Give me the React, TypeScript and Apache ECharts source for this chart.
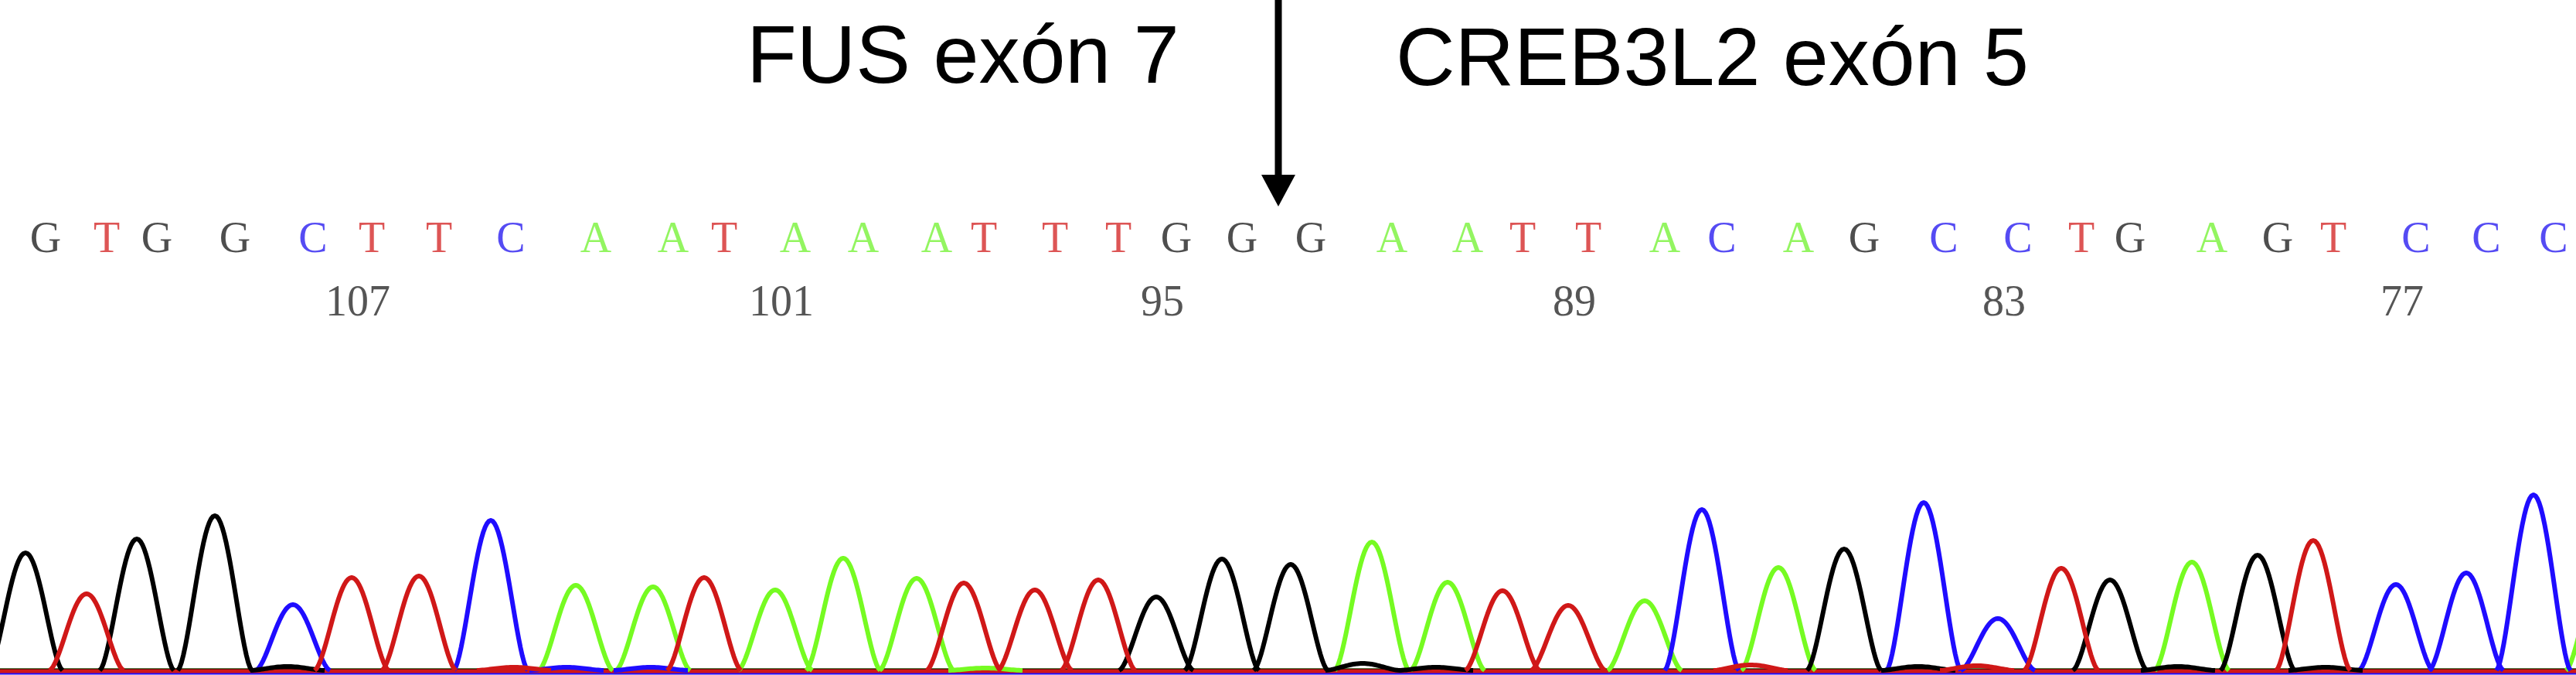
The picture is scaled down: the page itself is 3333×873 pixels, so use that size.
import React, { useEffect, useRef } from "react";
import * as echarts from "echarts";

// ---- data ----
const BASES = [
  "G","T","G","G","C","T","T","C","A","A","T","A","A","A","T","T","T","G","G",
  "G","A","A","T","T","A","C","A","G","C","C","T","G","A","G","T","C","C","C",
];
const PEAK_POS = [
  33, 112, 177, 278, 379, 455, 542, 635, 745, 845, 911, 1003, 1091, 1186, 1247,
  1339, 1421, 1496, 1581, 1670, 1775, 1873, 1944, 2029, 2128, 2202, 2301, 2386,
  2489, 2585, 2667, 2730, 2836, 2921, 2993, 3100, 3191, 3278,
];
const PEAK_HEIGHT = [
  152, 99, 170, 200, 85, 120, 122, 194, 110, 108, 120, 104, 145, 119, 113,
  104, 117, 95, 144, 137, 166, 114, 103, 84, 90, 208, 133, 157,
  217, 67, 132, 117, 140, 149, 168, 111, 126, 227,
];
// small secondary peaks: base, position, height
const MINOR_BASE = ["G", "G", "G", "G", "G", "G", "T", "T", "T", "C", "C", "A", "A"];
const MINOR_POS = [372, 1763, 1858, 2482, 2818, 3009, 665, 2265, 2558, 733, 842, 1275, 3368];
const MINOR_HEIGHT = [5, 9, 4, 5, 5, 4, 4, 7, 6, 4, 4, 3, 130];

// position tick labels: base index (1-based) and label
const TICK_INDEX = [6, 12, 18, 24, 30, 36];
const TICK_LABEL = ["107", "101", "95", "89", "83", "77"];

const TITLE_LEFT = "FUS exón 7";
const TITLE_RIGHT = "CREB3L2 exón 5";

// ---- styles ----
const TRACE_COLOR: Record<string, string> = {
  A: "#76fb22",
  C: "#1f0cff",
  G: "#000000",
  T: "#d01818",
};
const LETTER_COLOR: Record<string, string> = {
  A: "#78f23a",
  C: "#2a1ef0",
  G: "#222222",
  T: "#d42a2a",
};
const BASELINE_SHIFT: Record<string, number> = { A: 0, C: -3, G: 0, T: -1 };
const CHANNEL_ORDER = ["A", "C", "G", "T"];
const HALF_BASE = 48;
const LINE_W = 6;
const X_MIN = 0;
const X_MAX = 3333;

function makeRender(color: string) {
  return (params: any, api: any) => {
    const x = api.value(0);
    const h = api.value(1);
    const N = 20;
    const pts: number[][] = [];
    for (let k = -N; k <= N; k++) {
      const u = k / N;
      const c = Math.max(0, Math.cos((Math.PI * u) / 2));
      pts.push(api.coord([x + u * HALF_BASE, h * Math.pow(c, 1.6)]));
    }
    return {
      type: "polyline",
      shape: { points: pts },
      style: { stroke: color, lineWidth: LINE_W, fill: null, lineJoin: "round" },
    };
  };
}

export default function App() {
  const ref = useRef<HTMLDivElement>(null);
  useEffect(() => {
    if (!ref.current) return;
    const chart = echarts.init(ref.current, null, { renderer: "svg" });

    const series: any[] = [];
    CHANNEL_ORDER.forEach((b) => {
      series.push({
        type: "line",
        xAxisIndex: 0,
        yAxisIndex: 0,
        data: [
          [X_MIN, BASELINE_SHIFT[b]],
          [X_MAX, BASELINE_SHIFT[b]],
        ],
        symbol: "none",
        lineStyle: { color: TRACE_COLOR[b], width: 5 },
        z: 2,
        silent: true,
      });
      const data: number[][] = [];
      PEAK_POS.forEach((p, i) => {
        if (BASES[i] === b) data.push([p, PEAK_HEIGHT[i]]);
      });
      MINOR_POS.forEach((p, i) => {
        if (MINOR_BASE[i] === b) data.push([p, MINOR_HEIGHT[i]]);
      });
      series.push({
        type: "custom",
        xAxisIndex: 0,
        yAxisIndex: 0,
        clip: true,
        renderItem: makeRender(TRACE_COLOR[b]),
        data,
        z: 3,
        silent: true,
      });
    });

    series.push({
      type: "scatter",
      xAxisIndex: 1,
      yAxisIndex: 1,
      symbolSize: 1,
      itemStyle: { color: "transparent" },
      data: BASES.map((b, i) => ({
        value: [PEAK_POS[i], 1],
        name: b,
        label: { color: LETTER_COLOR[b] },
      })),
      label: {
        show: true,
        position: "inside",
        offset: [26, 0],
        formatter: (p: any) => p.name,
        fontFamily: '"Liberation Serif", serif',
        fontSize: 56,
      },
      silent: true,
    });
    series.push({
      type: "scatter",
      xAxisIndex: 1,
      yAxisIndex: 1,
      symbolSize: 1,
      itemStyle: { color: "transparent" },
      data: TICK_INDEX.map((idx, i) => ({
        value: [PEAK_POS[idx - 1], 0],
        name: TICK_LABEL[i],
      })),
      label: {
        show: true,
        position: "inside",
        offset: [8, 0],
        formatter: (p: any) => p.name,
        fontFamily: '"Liberation Serif", serif',
        fontSize: 56,
        color: "#2a2a2a",
      },
      silent: true,
    });

    chart.setOption({
      animation: false,
      backgroundColor: "#ffffff",
      grid: [
        { left: 0, right: 0, top: 597, bottom: 0 },
        { left: 0, right: 0, top: 307, height: 82 },
      ],
      xAxis: [
        { type: "value", gridIndex: 0, min: X_MIN, max: X_MAX, show: false },
        { type: "value", gridIndex: 1, min: X_MIN, max: X_MAX, show: false },
      ],
      yAxis: [
        { type: "value", gridIndex: 0, min: -6, max: 270, show: false },
        { type: "value", gridIndex: 1, min: 0, max: 1, show: false },
      ],
      graphic: [
        {
          type: "text",
          x: 966,
          y: 70,
          style: {
            text: TITLE_LEFT,
            fontFamily: '"Liberation Sans", Arial, sans-serif',
            fontSize: 106,
            fill: "#000",
            align: "left",
            verticalAlign: "middle",
          },
        },
        {
          type: "text",
          x: 1806,
          y: 73,
          style: {
            text: TITLE_RIGHT,
            fontFamily: '"Liberation Sans", Arial, sans-serif',
            fontSize: 106,
            fill: "#000",
            align: "left",
            verticalAlign: "middle",
          },
        },
        {
          type: "line",
          shape: { x1: 1654, y1: 0, x2: 1654, y2: 232 },
          style: { stroke: "#000", lineWidth: 9 },
        },
        {
          type: "polygon",
          shape: {
            points: [
              [1632, 226],
              [1676, 226],
              [1654, 267],
            ],
          },
          style: { fill: "#000" },
        },
      ],
      series,
    });
    return () => chart.dispose();
  }, []);
  return (
    <div
      ref={ref}
      style={{ position: "fixed", left: 0, top: 0, width: 3333, height: 873, background: "#fff" }}
    />
  );
}
